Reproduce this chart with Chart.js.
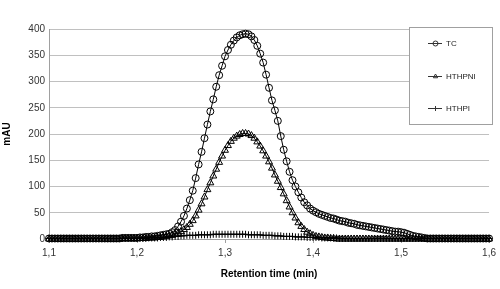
<!DOCTYPE html>
<html>
<head>
<meta charset="utf-8">
<script src="https://cdn.jsdelivr.net/npm/chart.js@4.4.0/dist/chart.umd.min.js"></script>
<style>
html, body { margin: 0; padding: 0; background: #fff; }
#wrap { width: 500px; height: 289px; }
</style>
</head>
<body>
<div id="wrap"><canvas id="retentionChart"></canvas></div>
<script>
// detector sampling: one reading every 0.2 s, starting at 1,1 min
const startTime = 1.1;
const sampleStep = 1 / 300;

const seriesNames = ['TC', 'HTHPNI', 'HTHPI'];

const tcValues = [
    1, 1, 1, 1, 1, 1, 1, 1, 1, 1,
    1, 1, 1, 1, 1, 1, 1, 1, 1, 1,
    1, 1, 1, 1, 1, 2, 2, 2, 2, 2,
    2, 3, 3, 4, 4, 5, 5, 6, 7, 8,
    9, 10, 13, 17, 24, 33, 44, 58, 74, 92,
    116, 142, 166, 192, 218, 243, 266, 290, 312, 330,
    348, 360, 370, 378, 384, 388, 390, 391, 390, 386,
    379, 368, 353, 336, 313, 288, 264, 245, 225, 196,
    170, 148, 128, 112, 100, 89, 79, 70, 64, 58,
    54, 51, 48, 46, 44, 42, 40, 39, 37, 35,
    34, 33, 31, 30, 29, 27, 26, 25, 24, 23,
    22, 21, 20, 19, 18, 17, 16, 15, 14, 14,
    13, 12, 10, 8, 6, 5, 4, 3, 2, 1,
    1, 1, 1, 1, 1, 1, 1, 1, 1, 1,
    1, 1, 1, 1, 1, 1, 1, 1, 1, 1,
    1
];

const hthpniValues = [
    0, 0, 0, 0, 0, 0, 0, 0, 0, 0,
    0, 0, 0, 0, 0, 0, 0, 0, 0, 0,
    0, 0, 0, 0, 0, 1, 1, 1, 1, 1,
    1, 1, 1, 1, 2, 2, 2, 3, 3, 4,
    5, 6, 7, 9, 11, 14, 18, 22, 28, 35,
    44, 55, 67, 80, 94, 107, 120, 133, 146, 158,
    169, 178, 186, 192, 196, 199, 201, 201, 200, 197,
    192, 185, 177, 168, 158, 147, 135, 122, 110, 98,
    86, 73, 61, 50, 40, 31, 24, 18, 13, 10,
    7, 5, 4, 3, 2, 2, 1, 1, 0, 0,
    0, 0, 0, 0, 0, 0, 0, 0, 0, 0,
    0, 0, 0, 0, 0, 0, 0, 0, 0, 0,
    0, 0, 0, 0, 0, 0, 0, 0, 0, 0,
    0, 0, 0, 0, 0, 0, 0, 0, 0, 0,
    0, 0, 0, 0, 0, 0, 0, 0, 0, 0,
    0
];

const hthpiValues = [
    1, 1, 1, 1, 1, 1, 1, 1, 1, 1,
    1, 1, 1, 1, 1, 1, 1, 1, 1, 1,
    1, 1, 1, 1, 1, 1, 1, 1, 1, 1,
    1, 1, 1, 1, 2, 2, 2, 2, 3, 3,
    3, 4, 4, 5, 5, 6, 6, 7, 7, 7,
    7, 8, 8, 8, 8, 8, 9, 9, 9, 9,
    9, 9, 9, 9, 9, 9, 9, 9, 8, 8,
    8, 8, 8, 7, 7, 7, 7, 6, 6, 6,
    5, 5, 5, 5, 4, 4, 4, 4, 3, 3,
    3, 3, 3, 2, 2, 2, 2, 2, 2, 1,
    1, 1, 1, 1, 1, 1, 1, 1, 1, 1,
    1, 1, 1, 1, 1, 1, 1, 1, 1, 1,
    1, 1, 1, 1, 1, 1, 1, 1, 1, 1,
    1, 1, 1, 1, 1, 1, 1, 1, 1, 1,
    1, 1, 1, 1, 1, 1, 1, 1, 1, 1,
    1
];

const pointStyles = ['circle', 'triangle', 'cross'];
const pointSizes = [3.5, 4, 3.5];

function toPoints(values) {
    return values.map((v, i) => ({ x: startTime + i * sampleStep, y: v }));
}

const fontFamily = '"Liberation Sans", Arial, sans-serif';

// legend box drawn inside the plot, top right
const boxLegend = {
    id: 'boxLegend',
    afterDraw(chart) {
        const ctx = chart.ctx;
        ctx.save();
        ctx.fillStyle = '#ffffff';
        ctx.strokeStyle = '#a0a0a0';
        ctx.lineWidth = 1;
        ctx.fillRect(409.5, 27.5, 83, 97);
        ctx.strokeRect(409.5, 27.5, 83, 97);

        const rows = [43, 76, 108];
        chart.data.datasets.forEach((ds, i) => {
            const y = rows[i] + 0.5;
            ctx.strokeStyle = '#333';
            ctx.lineWidth = 1;
            ctx.beginPath();
            ctx.moveTo(428, y);
            ctx.lineTo(442, y);
            ctx.stroke();
            ctx.fillStyle = 'rgba(0,0,0,0)';
            Chart.helpers.drawPoint(ctx, {
                pointStyle: ds.pointStyle,
                radius: 2.5,
                borderWidth: 1,
                rotation: 0
            }, 435.5, y);
            ctx.fillStyle = '#222';
            ctx.font = '8px ' + fontFamily;
            ctx.textBaseline = 'middle';
            ctx.textAlign = 'left';
            ctx.fillText(ds.label, 446, y);
        });
        ctx.restore();
    }
};

const ctx = document.getElementById('retentionChart').getContext('2d');

new Chart(ctx, {
    type: 'line',
    data: {
        datasets: [tcValues, hthpniValues, hthpiValues].map((vals, i) => ({
            label: seriesNames[i],
            data: toPoints(vals),
            borderColor: '#000',
            borderWidth: 1,
            backgroundColor: 'rgba(0,0,0,0)',
            pointStyle: pointStyles[i],
            pointRadius: pointSizes[i],
            pointBorderColor: '#000',
            pointBorderWidth: 1,
            pointBackgroundColor: 'rgba(0,0,0,0)',
            tension: 0,
            clip: false
        }))
    },
    options: {
        responsive: true,
        maintainAspectRatio: false,
        animation: false,
        layout: { padding: { top: 29, right: 8, left: 0, bottom: 0 } },
        plugins: {
            legend: { display: false },
            tooltip: { enabled: false }
        },
        scales: {
            x: {
                type: 'linear',
                min: 1.1,
                max: 1.6,
                afterFit: scale => { scale.height = 50; },
                border: { color: '#a0a0a0' },
                grid: { drawOnChartArea: false, tickLength: 4, color: '#a0a0a0' },
                ticks: {
                    stepSize: 0.1,
                    padding: 4,
                    color: '#333',
                    font: { family: fontFamily, size: 10 },
                    callback: value => value.toFixed(1).replace('.', ',')
                },
                title: {
                    display: true,
                    text: 'Retention time (min)',
                    color: '#000',
                    padding: { top: 0, bottom: 9 },
                    font: { family: fontFamily, size: 10, weight: 'bold' }
                }
            },
            y: {
                min: 0,
                max: 400,
                afterFit: scale => { scale.width = 49; },
                border: { color: '#a0a0a0' },
                grid: { color: '#c0c0c0', drawTicks: false },
                ticks: {
                    stepSize: 50,
                    padding: 4,
                    color: '#333',
                    font: { family: fontFamily, size: 10 }
                },
                title: {
                    display: true,
                    text: 'mAU',
                    color: '#000',
                    padding: { top: 1, bottom: 0 },
                    font: { family: fontFamily, size: 10, weight: 'bold' }
                }
            }
        }
    },
    plugins: [boxLegend]
});
</script>
</body>
</html>
